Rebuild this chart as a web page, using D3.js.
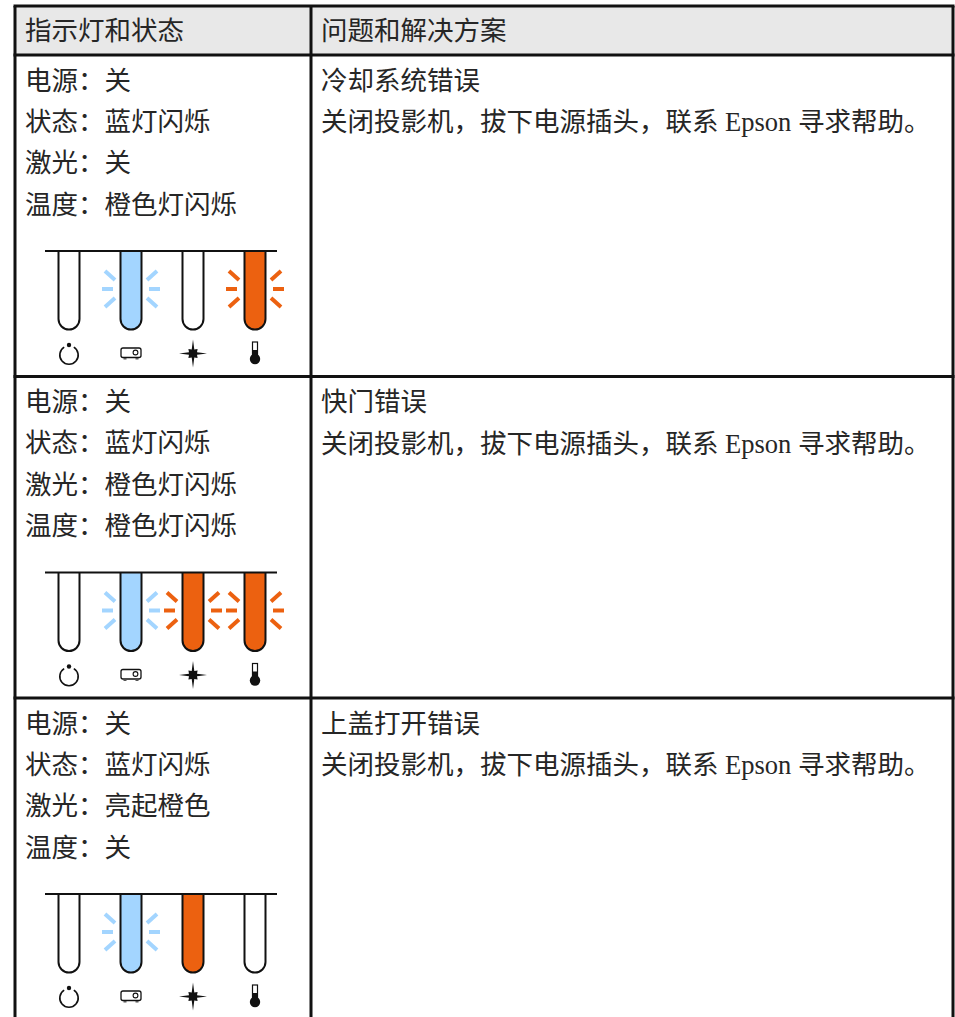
<!DOCTYPE html>
<html><head><meta charset="utf-8">
<script src="https://cdn.jsdelivr.net/npm/d3@7/dist/d3.min.js"></script>
<style>html,body{margin:0;padding:0;background:#fff;overflow:hidden}
text{font-family:"Liberation Serif","Noto Sans CJK SC",serif;font-size:26.5px;fill:#262626}</style>
</head><body><svg id="c" width="955" height="1017"></svg>
<script>
const headers = ["指示灯和状态", "问题和解决方案"];
const statusLines = [
  ["电源：关", "状态：蓝灯闪烁", "激光：关", "温度：橙色灯闪烁"],
  ["电源：关", "状态：蓝灯闪烁", "激光：橙色灯闪烁", "温度：橙色灯闪烁"],
  ["电源：关", "状态：蓝灯闪烁", "激光：亮起橙色", "温度：关"]
];
const problemTitles = ["冷却系统错误", "快门错误", "上盖打开错误"];
const problemAction = "关闭投影机，拔下电源插头，联系 Epson 寻求帮助。";
const lightNames = ["power", "status", "laser", "temp"];
const lightColors = [
  ["off", "blue", "off", "orange"],
  ["off", "blue", "orange", "orange"],
  ["off", "blue", "orange", "off"]
];
const lightBlink = [
  [false, true, false, true],
  [false, true, true, true],
  [false, true, false, false]
];
const palette = {off: "#fff", blue: "#a3d5ff", orange: "#ec6110"};

const W = 955, H = 1017, INK = "#111";
const svg = d3.select("#c");
const rowY = d3.scaleLinear().domain([0, 1]).range([55, 376.5]);
const rowCount = statusLines.length;
const x = d3.scalePoint().domain(lightNames).range([69, 255]);
const L = 15, R = 953, MID = 311, TOP = 6;

svg.append("rect").attr("x", L).attr("y", TOP).attr("width", R - L).attr("height", 49).attr("fill", "#e8e8e8");
headers.forEach((h, i) => svg.append("text").attr("x", i ? 321 : 25).attr("y", 39.5).text(h));

const grp = svg.selectAll("g.row").data(d3.range(rowCount)).join("g").attr("class", "row")
  .attr("transform", i => `translate(0,${rowY(i)})`);

grp.each(function (i) {
  const g = d3.select(this);
  statusLines[i].forEach((t, k) =>
    g.append("text").attr("x", 25).attr("y", 34.5 + k * 41.4).text(t));
  g.append("text").attr("x", 321).attr("y", 34.5).text(problemTitles[i]);
  g.append("text").attr("x", 321).attr("y", 76).text(problemAction);

  const topY = 196, botY = 274.5, r = 10.5, midY = 234;
  lightNames.forEach((n, k) => {
    const cx = x(n), state = lightColors[i][k];
    g.append("path")
      .attr("d", `M${cx - r},${topY}V${botY - r}A${r},${r} 0 0 0 ${cx + r},${botY - r}V${topY}`)
      .attr("fill", palette[state]).attr("stroke", INK).attr("stroke-width", 2);
    if (lightBlink[i][k]) {
      const rays = [[-29, 0, -18, 0], [18, 0, 29, 0], [-26, -18, -16, -9], [16, -9, 26, -18], [-26, 18, -16, 9], [16, 9, 26, 18]];
      rays.forEach(a => g.append("line")
        .attr("x1", cx + a[0]).attr("y1", midY + a[1]).attr("x2", cx + a[2]).attr("y2", midY + a[3])
        .attr("stroke", palette[state]).attr("stroke-width", 4));
    }
  });
  g.append("line").attr("x1", 45).attr("x2", 277).attr("y1", 196).attr("y2", 196).attr("stroke", INK).attr("stroke-width", 2);

  const iy = 298;
  const p = g.append("g").attr("transform", `translate(${x("power")},${iy})`);
  p.append("path").attr("d", d3.arc()({innerRadius: 8.4, outerRadius: 10, startAngle: 0.55, endAngle: Math.PI * 2 - 0.55})).attr("fill", INK).attr("transform", "translate(0,2)");
  p.append("circle").attr("cy", -8).attr("r", 2.2).attr("fill", INK);

  const s = g.append("g").attr("transform", `translate(${x("status")},${iy})`);
  s.append("rect").attr("x", -10).attr("y", -5).attr("width", 20).attr("height", 9.5).attr("rx", 2).attr("fill", "#fff").attr("stroke", INK).attr("stroke-width", 1.3);
  s.append("circle").attr("cx", 4.5).attr("cy", -0.5).attr("r", 2.4).attr("fill", "#fff").attr("stroke", INK).attr("stroke-width", 1.1);
  s.append("path").attr("d", "M-7.5,5h3v1.5h-3zM4.5,5h3v1.5h-3z").attr("fill", "#555");

  const l = g.append("g").attr("transform", `translate(${x("laser")},${iy + 0.5})`);
  l.append("path").attr("d", "M0,-14L1.3,-4L4.6,-4.6L4,-1.3L14,0L4,1.3L4.6,4.6L1.3,4L0,14L-1.3,4L-4.6,4.6L-4,1.3L-14,0L-4,-1.3L-4.6,-4.6L-1.3,-4Z").attr("fill", INK);

  const t = g.append("g").attr("transform", `translate(${x("temp")},${iy})`);
  t.append("rect").attr("x", -2.5).attr("y", -11).attr("width", 5).attr("height", 16).attr("fill", "#fff").attr("stroke", INK).attr("stroke-width", 1.2);
  t.append("rect").attr("x", -2.5).attr("y", -3).attr("width", 5).attr("height", 7).attr("fill", INK);
  t.append("circle").attr("cy", 6).attr("r", 5.2).attr("fill", INK);
});

const hLines = [TOP, 55, rowY(1), rowY(2)];
hLines.forEach(y => svg.append("line").attr("x1", L - 1.5).attr("x2", R + 1.5).attr("y1", y).attr("y2", y).attr("stroke", INK).attr("stroke-width", 3));
[L, MID, R].forEach(v => svg.append("line").attr("x1", v).attr("x2", v).attr("y1", TOP).attr("y2", H).attr("stroke", INK).attr("stroke-width", 3));
</script></body></html>
